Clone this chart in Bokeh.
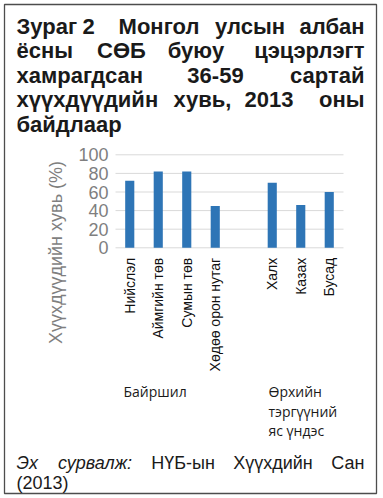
import math
from bokeh.plotting import figure
from bokeh.models import Range1d
from bokeh.embed import file_html
from bokeh.resources import INLINE
from bokeh.core.properties import value

# ---------------- data ----------------
location_cats = ["Нийслэл", "Аймгийн төв", "Сумын төв", "Хөдөө орон нутаг"]
location_vals = [72, 82, 82, 45]
ethnic_cats = ["Халх", "Казах", "Бусад"]
ethnic_vals = [70, 46, 60]
y_ticks = [0, 20, 40, 60, 80, 100]

title_lines = [
    ["Зураг", "2", "Монгол", "улсын", "албан"],
    ["ёсны", "СӨБ", "буюу", "цэцэрлэгт"],
    ["хамрагдсан", "36-59", "сартай"],
    ["хүүхдүүдийн", "хувь,", "2013", "оны"],
    ["байдлаар"],
]
y_title = "Хүүхдүүдийн хувь (%)"
group_location = "Байршил"
group_ethnic = ["Өрхийн", " тэргүүний", "яс үндэс"]
source_italic = ["Эх", "сурвалж:"]
source_regular = ["НҮБ-ын", "Хүүхдийн", "Сан"]
source_line2 = "(2013)"

# ---------------- layout (page pixels) ----------------
W, H = 383, 498
BOX_L, BOX_T, BOX_R, BOX_B = 4, 4, 376, 493       # outer border box
PLOT_L, PLOT_R = 115, 343                           # chart area (x)
PLOT_Y0, PLOT_Y100 = 247.3, 154.3                   # pixel of 0 % and 100 %

# category slots: location bars, one empty slot, ethnic bars
n_slots = len(location_cats) + 1 + len(ethnic_cats)
slot_px = (PLOT_R - PLOT_L) / n_slots
loc_pos = [i + 0.5 for i in range(len(location_cats))]
eth_pos = [len(location_cats) + 1 + i + 0.5 for i in range(len(ethnic_cats))]
px_per_pct = (PLOT_Y0 - PLOT_Y100) / 100.0

p = figure(width=W, height=H, output_backend="svg", toolbar_location=None,
           x_axis_type=None, y_axis_type=None,
           x_range=Range1d(BOX_L, BOX_R), y_range=Range1d(BOX_B, BOX_T),
           min_border_left=BOX_L, min_border_top=BOX_T,
           min_border_right=W - BOX_R, min_border_bottom=H - BOX_B)
p.outline_line_color = "#4d4d4d"
p.outline_line_width = 1.3
p.background_fill_color = "white"
p.border_fill_color = "white"
p.grid.visible = False

# data scales for the chart itself
p.extra_x_ranges = {"slot": Range1d((BOX_L - PLOT_L) / slot_px,
                                    (BOX_R - PLOT_L) / slot_px)}
p.extra_y_ranges = {"pct": Range1d((PLOT_Y0 - BOX_B) / px_per_pct,
                                   (PLOT_Y0 - BOX_T) / px_per_pct)}

# gridlines
p.segment(x0=[0] * len(y_ticks), x1=[n_slots] * len(y_ticks), y0=y_ticks, y1=y_ticks,
          line_color="#d9d9d9", line_width=1, x_range_name="slot", y_range_name="pct")

# bars
p.vbar(x=loc_pos + eth_pos, top=location_vals + ethnic_vals, bottom=0, width=0.32,
       fill_color="#2E75B6", line_color=None, x_range_name="slot", y_range_name="pct")

FONT = value("Liberation Sans")

# y tick labels
p.text(x=[0] * len(y_ticks), y=y_ticks, text=[str(t) for t in y_ticks],
       x_offset=-7, text_align="right", text_baseline="middle",
       text_font=FONT, text_font_size="18px", text_color="#7f7f7f",
       x_range_name="slot", y_range_name="pct")

# category labels (rotated)
p.text(x=loc_pos + eth_pos, y=[0] * (len(loc_pos) + len(eth_pos)),
       text=location_cats + ethnic_cats, y_offset=10, angle=math.pi / 2,
       text_align="right", text_baseline="middle", text_font=FONT,
       text_font_size="14px", text_color="#111111",
       x_range_name="slot", y_range_name="pct")


def add_text(texts, xs, ys, align="left", font=FONT, size="22px", style="normal",
             color="#1a1a1a", angle=0, baseline="alphabetic"):
    p.text(x=xs, y=ys, text=texts, text_align=align, text_baseline=baseline,
           text_font=font, text_font_size=size, text_font_style=style,
           text_color=color, angle=angle)


# title (justified: first word left, last word right, middle words centred)
title_base = [25.5, 50, 74.5, 99, 123.5]
title_mid = [[88, 158.5, 249.5], [121, 195.5], [215], [202, 268.5], []]
for words, base, mids in zip(title_lines, title_base, title_mid):
    add_text([words[0]], [16], [base], "left", style="bold")
    if mids:
        add_text(words[1:-1], mids, [base] * len(mids), "center", style="bold")
    if len(words) > 1:
        add_text([words[-1]], [364], [base], "right", style="bold")

# y axis title
add_text([y_title], [55], [252], "center", size="18px", color="#7f7f7f",
         angle=math.pi / 2, baseline="middle")

# group labels
add_text([group_location], [123], [391], "left", font=value("Open Sans"), size="14px")
add_text(group_ethnic, [268, 268, 268], [391, 411, 430], "left",
         font=value("Open Sans"), size="14px")

# source
add_text([source_italic[0]], [16], [462], "left", size="18px", style="italic")
add_text([source_italic[1]], [94.5], [462], "center", size="18px", style="italic")
add_text(source_regular[:2], [182.5, 272.5], [462, 462], "center", size="18px")
add_text([source_regular[2]], [364], [462], "right", size="18px")
add_text([source_line2], [16], [482], "left", size="18px")

open("out.html", "w").write(file_html(p, INLINE))
